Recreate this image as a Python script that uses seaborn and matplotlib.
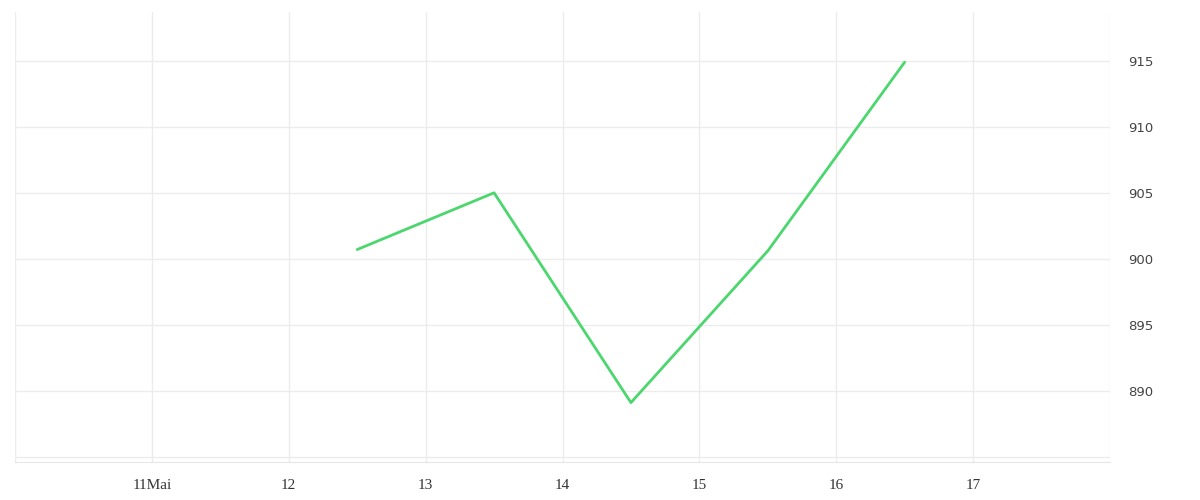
import pandas as pd
import matplotlib.pyplot as plt
import seaborn as sns

# Datos
days = [12.5, 13.5, 14.5, 15.5, 16.5]
values = [900.7, 905.0, 889.1, 900.6, 914.9]
tick_days = [11, 12, 13, 14, 15, 16, 17]
tick_labels = ["11Mai", "12", "13", "14", "15", "16", "17"]
y_ticks = [890, 895, 900, 905, 910, 915]

df = pd.DataFrame({"day": days, "value": values})

sns.set_style("white")

fig = plt.figure(figsize=(12, 5), dpi=100)
ax = fig.add_axes([0.0125, 0.076, 0.9125, 0.9])

sns.lineplot(data=df, x="day", y="value", color="#4cd66e", linewidth=2, ax=ax)

ax.set_xlim(10, 18)
ax.set_ylim(884.6, 918.7)

# grilla
for d in range(10, 19):
    ax.axvline(d, color="#ececec", linewidth=1, zorder=0)
for v in [885] + y_ticks:
    ax.axhline(v, color="#ececec", linewidth=1, zorder=0)

ax.set_xticks(list(range(10, 19)))
ax.set_xticklabels([""] + tick_labels + [""], fontfamily="Liberation Serif", fontsize=11, color="#333333")
ax.set_yticks(y_ticks)
ax.set_yticklabels([str(v) for v in y_ticks], fontfamily="DejaVu Sans", fontsize=9.5, color="#444444")
ax.yaxis.tick_right()
ax.tick_params(axis="x", length=5, width=1, color="#e0e0e0", pad=7, direction="out")
ax.tick_params(axis="y", length=0, pad=13)

for s in ax.spines.values():
    s.set_visible(False)
ax.spines["bottom"].set_visible(True)
ax.spines["bottom"].set_color("#e6e6e6")
ax.set_xlabel("")
ax.set_ylabel("")

fig.savefig("out.png", dpi=100)
